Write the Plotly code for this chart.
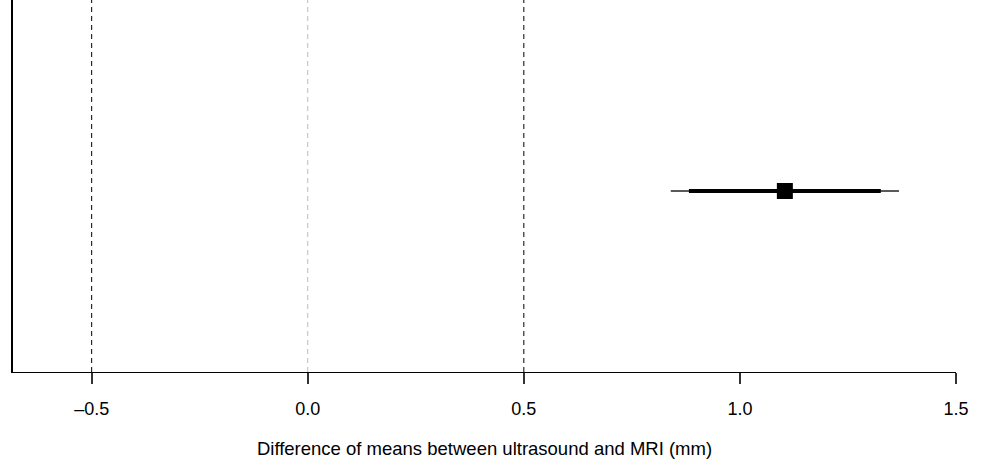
import plotly.graph_objects as go

# Data
estimate = [1.104]
ci_inner = [0.882, 1.326]   # thick segment
ci_outer = [0.840, 1.368]   # thin segment
row_y = [1.0]
ref_black = [-0.5, 0.5]
ref_grey = [0.0]
tick_vals = [-0.5, 0.0, 0.5, 1.0, 1.5]
tick_text = ["\u20130.5", "0.0", "0.5", "1.0", "1.5"]
x_title = "Difference of means between ultrasound and MRI (mm)"

fig = go.Figure()

# outer CI (thin)
fig.add_trace(go.Scatter(x=ci_outer, y=row_y * 2, mode="lines",
                         line=dict(color="#222222", width=1.3), showlegend=False, hoverinfo="skip"))
# inner CI (thick)
fig.add_trace(go.Scatter(x=ci_inner, y=row_y * 2, mode="lines",
                         line=dict(color="black", width=4), showlegend=False, hoverinfo="skip"))
# point estimate
fig.add_trace(go.Scatter(x=estimate, y=row_y, mode="markers",
                         marker=dict(symbol="square", size=16, color="black"), showlegend=False))

for v in ref_black:
    fig.add_shape(type="line", x0=v, x1=v, y0=0, y1=1, xref="x", yref="paper",
                  line=dict(color="black", width=1, dash="5px,4px"), layer="below")
for v in ref_grey:
    fig.add_shape(type="line", x0=v, x1=v, y0=0, y1=1, xref="x", yref="paper",
                  line=dict(color="#bbbbbb", width=1, dash="5px,4px"), layer="below")

fig.update_layout(
    width=984, height=460,
    margin=dict(l=13, r=28, t=0, b=88),
    plot_bgcolor="white", paper_bgcolor="white",
    font=dict(family="Liberation Sans, Arial, sans-serif", color="black", size=18),
    xaxis=dict(range=[-0.682, 1.5], tickvals=tick_vals, ticktext=tick_text,
               showgrid=False, zeroline=False, showline=True, linecolor="black", linewidth=1,
               ticks="outside", ticklen=11, tickcolor="#333333", tickwidth=1.5,
               tickfont=dict(size=18), ticklabelstandoff=9, automargin=False,
               title=dict(text=x_title, font=dict(size=18.5), standoff=24)),
    yaxis=dict(range=[0, 2.055], showgrid=False, zeroline=False, showline=True,
               linecolor="black", linewidth=1.5, showticklabels=False, ticks="",
               automargin=False),
)

fig.write_html("out.html", config={"displayModeBar": False},
               post_script="document.body.style.margin='0';")
